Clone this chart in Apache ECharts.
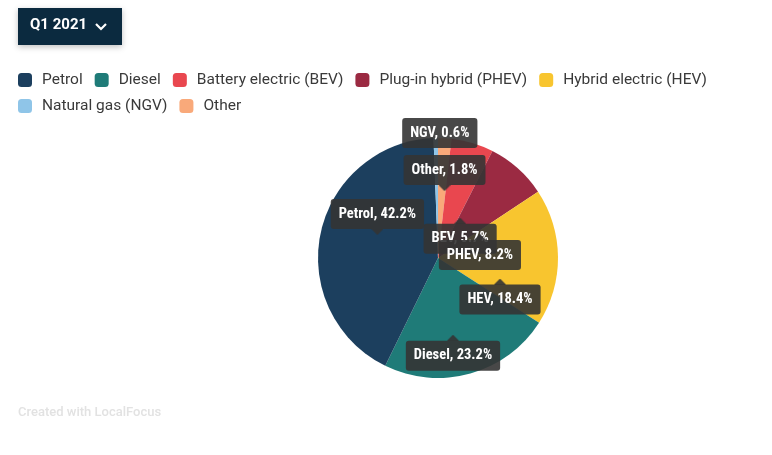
<!DOCTYPE html>
<html>
<head>
<meta charset="utf-8">
<script src="https://cdn.jsdelivr.net/npm/echarts@6/dist/echarts.min.js"></script>
<style>
html,body{margin:0;padding:0;background:#fff;}
#chart{width:772px;height:455px;}
</style>
</head>
<body>
<div id="chart"></div>
<script>
// ---- data ----
const categories = ['Petrol', 'Diesel', 'Battery electric (BEV)', 'Plug-in hybrid (PHEV)', 'Hybrid electric (HEV)', 'Natural gas (NGV)', 'Other'];
const shortLabels = ['Petrol', 'Diesel', 'BEV', 'PHEV', 'HEV', 'NGV', 'Other'];
const shares = [42.2, 23.2, 5.7, 8.2, 18.4, 0.6, 1.8];
// order of slices clockwise from 12 o'clock
const sliceOrder = ['Other', 'Battery electric (BEV)', 'Plug-in hybrid (PHEV)', 'Hybrid electric (HEV)', 'Diesel', 'Petrol', 'Natural gas (NGV)'];
const periodLabel = 'Q1 2021';
const creditText = 'Created with LocalFocus';

// ---- styles ----
const palette = ['#1c3f5e', '#1f7b78', '#e9474f', '#9b2a42', '#f8c52f', '#8fc5e8', '#f9a97a'];
const labelBg = 'rgba(52,52,52,0.9)';
// label tweaks: arrow direction and nudge relative to default inside position
const labelTweak = {
  'Other': {arrow: 'dn', dx: 3, dy: -22},
  'Battery electric (BEV)': {arrow: 'up', dx: 4, dy: 38},
  'Plug-in hybrid (PHEV)': {arrow: 'up', dx: 0, dy: 41},
  'Hybrid electric (HEV)': {arrow: 'up', dx: -1, dy: 39},
  'Diesel': {arrow: 'up', dx: -2, dy: 34},
  'Petrol': {arrow: 'dn', dx: 1, dy: -28},
  'Natural gas (NGV)': {arrow: '', dx: 3, dy: -62}
};

function triangle(up) {
  const c = document.createElement('canvas');
  c.width = 12; c.height = 6;
  const g = c.getContext('2d');
  g.fillStyle = labelBg;
  g.beginPath();
  if (up) { g.moveTo(0, 6); g.lineTo(6, 0); g.lineTo(12, 6); }
  else { g.moveTo(0, 0); g.lineTo(6, 6); g.lineTo(12, 0); }
  g.closePath();
  g.fill();
  return c.toDataURL('image/png');
}
const triUp = triangle(true), triDn = triangle(false);

const labelFont = '"Roboto Condensed","Liberation Sans Narrow","DejaVu Sans Condensed",Roboto,sans-serif';

const pieData = sliceOrder.map(name => {
  const i = categories.indexOf(name);
  return {name: name, value: shares[i], itemStyle: {color: palette[i]}};
});

const chart = echarts.init(document.getElementById('chart'), null, {renderer: 'canvas'});
chart.setOption({
  animation: false,
  backgroundColor: '#fff',
  legend: {
    data: categories,
    left: 13,
    top: 67,
    width: 740,
    itemWidth: 14,
    itemHeight: 14,
    itemGap: 10,
    icon: 'roundRect',
    selectedMode: false,
    textStyle: {fontSize: 15.5, color: '#3a3a3a', fontFamily: 'Roboto, sans-serif', padding: [0, 2, 0, 5], lineHeight: 12}
  },
  graphic: [
    {type: 'rect', left: 18, top: 8, shape: {width: 104, height: 37}, style: {fill: '#0b2a3f', shadowBlur: 6, shadowColor: 'rgba(0,0,0,0.25)', shadowOffsetY: 2}},
    {type: 'text', left: 30, top: 18, style: {text: periodLabel, fill: '#fff', font: 'bold 15px Roboto, sans-serif'}},
    {type: 'polyline', shape: {points: [[96, 24], [101, 29], [106, 24]]}, style: {stroke: '#fff', lineWidth: 2.2, fill: null}},
    {type: 'text', left: 18, top: 406, style: {text: creditText, fill: '#e2e2e2', font: '500 13px Roboto, sans-serif'}}
  ],
  series: [{
    type: 'pie',
    center: [438, 258],
    radius: 120,
    startAngle: 90,
    clockwise: true,
    avoidLabelOverlap: false,
    emphasis: {disabled: true},
    silent: true,
    itemStyle: {borderWidth: 0},
    labelLine: {show: false},
    label: {
      show: true,
      position: 'inside',
      formatter: function (p) {
        const i = categories.indexOf(p.name);
        const t = '{b|' + shortLabels[i] + ', ' + shares[i].toFixed(1) + '%}';
        const a = labelTweak[p.name].arrow;
        if (a === 'dn') return t + '\n{dn|}';
        if (a === 'up') return '{up|}\n' + t;
        return t;
      },
      rich: {
        b: {color: '#fff', fontSize: 14.5, fontWeight: 'bold', fontFamily: labelFont, backgroundColor: labelBg, borderRadius: 3, padding: [7, 8], height: 16, lineHeight: 30},
        dn: {backgroundColor: {image: triDn}, width: 12, height: 6, lineHeight: 6},
        up: {backgroundColor: {image: triUp}, width: 12, height: 6, lineHeight: 6}
      }
    },
    labelLayout: function (params) {
      const name = sliceOrder[params.dataIndex];
      const t = labelTweak[name];
      return {dx: t.dx, dy: t.dy};
    },
    data: pieData
  }]
});
</script>
</body>
</html>
